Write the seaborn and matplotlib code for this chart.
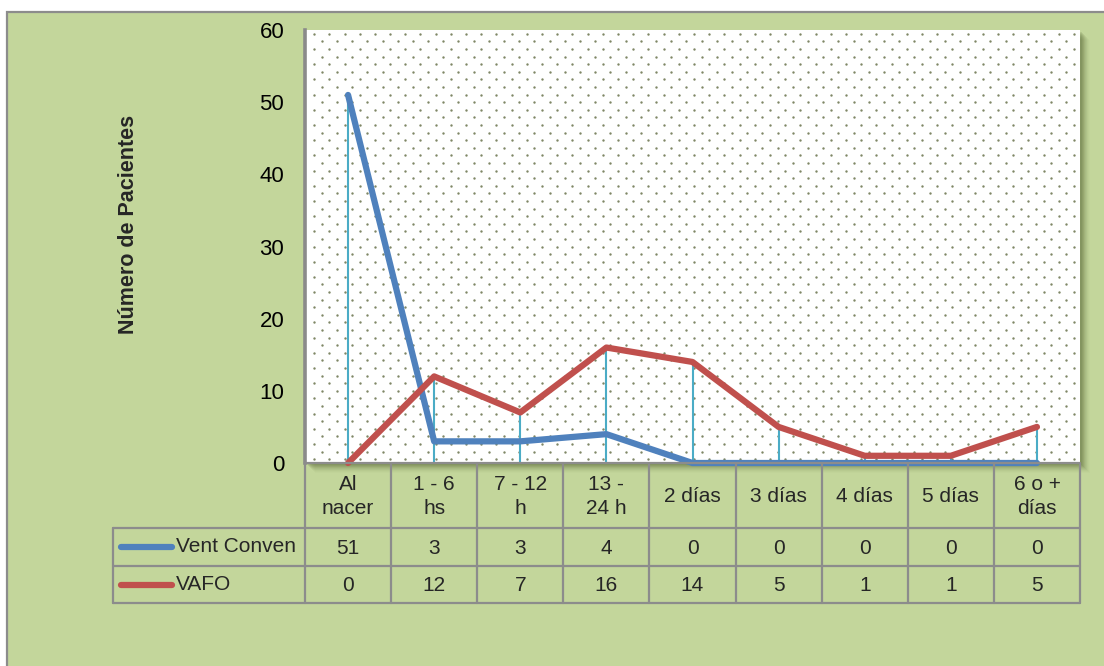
import numpy as np
import pandas as pd
import matplotlib
matplotlib.use("Agg")
import matplotlib.pyplot as plt
import matplotlib.transforms as mtransforms
from matplotlib.patches import Rectangle
import seaborn as sns

# ---- data -------------------------------------------------------------
categories = ["Al\nnacer", "1 - 6\nhs", "7 - 12\nh", "13 -\n24 h", "2 días",
              "3 días", "4 días", "5 días", "6 o +\ndías"]
series_names = ["Vent Conven", "VAFO"]
vent_conven = [51, 3, 3, 4, 0, 0, 0, 0, 0]
vafo = [0, 12, 7, 16, 14, 5, 1, 1, 5]
y_ticks = [0, 10, 20, 30, 40, 50, 60]
y_label = "Número de Pacientes"

# ---- style ------------------------------------------------------------
sns.set_style("white")
plt.rcParams["font.family"] = ["Liberation Sans", "DejaVu Sans"]

GREEN = "#c3d69b"
GRID_GREY = "#8c8c8c"
BLUE = "#4f81bd"
RED = "#c0504d"
DROP = "#4bacc6"
TXT = 15

W, H = 1104, 666
fig = plt.figure(figsize=(W / 100, H / 100), dpi=100)
fig.patch.set_facecolor("white")


def frame(x0, y0, x1, y1):
    return [x0 / W, 1 - y1 / H, (x1 - x0) / W, (y1 - y0) / H]


# background layer in pixel coordinates
bg = fig.add_axes([0, 0, 1, 1], zorder=0)
bg.set_xlim(0, W)
bg.set_ylim(H, 0)
bg.axis("off")
bg.add_patch(Rectangle((7, 12), 1300, 800, facecolor=GREEN,
                       edgecolor=GRID_GREY, linewidth=1.6))

px0, py0, px1, py1 = 305, 30, 1080, 463
# soft drop shadow behind the plot area
for k, a in enumerate([0.12, 0.11, 0.10, 0.09, 0.07, 0.06, 0.04, 0.03, 0.02]):
    off = k + 2
    bg.add_patch(Rectangle((px0 + off, py0 + off), px1 - px0, py1 - py0,
                           facecolor="#4a5a2a", edgecolor="none", alpha=a))

# ---- plot area --------------------------------------------------------
ax = fig.add_axes(frame(px0, py0, px1, py1), zorder=1)
ax.set_facecolor("white")

# dotted fill pattern
nx, ny = 51, 57
xs, ys = [], []
for r in range(ny):
    shift = 0.5 if r % 2 else 0.0
    for c in range(nx):
        xs.append((c + shift + 0.6) / nx)
        ys.append((r + 0.5) / ny)
ax.scatter(xs, ys, s=3.0, color="#7f8766", linewidths=0,
           transform=ax.transAxes, zorder=0.5)

pos = np.arange(len(categories))
df = pd.DataFrame({
    "pos": np.concatenate([pos, pos]),
    "valor": vent_conven + vafo,
    "serie": [series_names[0]] * len(pos) + [series_names[1]] * len(pos),
})

# drop lines from the highest series down to the axis
tops = np.maximum(vent_conven, vafo)
ax.vlines(pos, 0, tops, color=DROP, linewidth=1.5, zorder=1.5)

sns.lineplot(data=df, x="pos", y="valor", hue="serie", hue_order=series_names,
             palette=[BLUE, RED], linewidth=4.5, legend=False, sort=False,
             ax=ax, zorder=3)
for ln in ax.lines:
    ln.set_clip_on(False)
    ln.set_solid_joinstyle("round")
    ln.set_solid_capstyle("round")

ax.set_xlim(-0.5, len(categories) - 0.5)
ax.set_ylim(0, 60)
ax.set_yticks(y_ticks)
ax.set_yticklabels([str(v) for v in y_ticks])
ax.set_xticks([])
ax.set_xlabel("")
ax.set_ylabel("")
ax.tick_params(axis="y", length=0, pad=15, labelsize=16, labelcolor="black")
for side in ["top", "right", "bottom"]:
    ax.spines[side].set_visible(False)
ax.spines["left"].set_color("#8a8a8a")
ax.spines["left"].set_linewidth(2.6)

# ---- data table below the plot ---------------------------------------
tb = fig.add_axes([0, 0, 1, 1], zorder=2)
tb.set_xlim(0, W)
tb.set_ylim(H, 0)
tb.axis("off")
tb.patch.set_alpha(0)
blend = mtransforms.blended_transform_factory(ax.transData, tb.transData)

row_top, row1, row2, row_bot = 463, 528, 566, 603
label_left = 113
n = len(categories)
edges = np.arange(n + 1) - 0.5
lw_t = 1.6

# horizontal rules
tb.plot([px0, px1], [row_top, row_top], color=GRID_GREY, lw=lw_t)
for yy in (row1, row2, row_bot):
    tb.plot([label_left, px1], [yy, yy], color=GRID_GREY, lw=lw_t)
tb.plot([label_left, label_left], [row1, row_bot], color=GRID_GREY, lw=lw_t)
# vertical rules
for e in edges:
    tb.plot([e, e], [row_top, row_bot], color=GRID_GREY, lw=lw_t,
            transform=blend)

# header texts and values
for i, cat in enumerate(categories):
    tb.text(i, (row_top + row1) / 2 + 1, cat, ha="center", va="center",
            fontsize=TXT, linespacing=1.3, transform=blend)
    tb.text(i, (row1 + row2) / 2 + 1, str(vent_conven[i]), ha="center",
            va="center", fontsize=TXT, transform=blend)
    tb.text(i, (row2 + row_bot) / 2 + 1, str(vafo[i]), ha="center",
            va="center", fontsize=TXT, transform=blend)

# series keys in the row headers
for name, col, (ya, yb) in zip(series_names, [BLUE, RED],
                               [(row1, row2), (row2, row_bot)]):
    yc = (ya + yb) / 2
    tb.plot([121, 172], [yc, yc], color=col, lw=4.5, solid_capstyle="round")
    tb.text(176, yc, name, ha="left", va="center", fontsize=TXT)

# rotated axis title
tb.text(128, 224, y_label, rotation=90, ha="center", va="center",
        fontsize=15.5, fontweight="bold")

fig.savefig("out.png", dpi=100, facecolor=fig.get_facecolor())
